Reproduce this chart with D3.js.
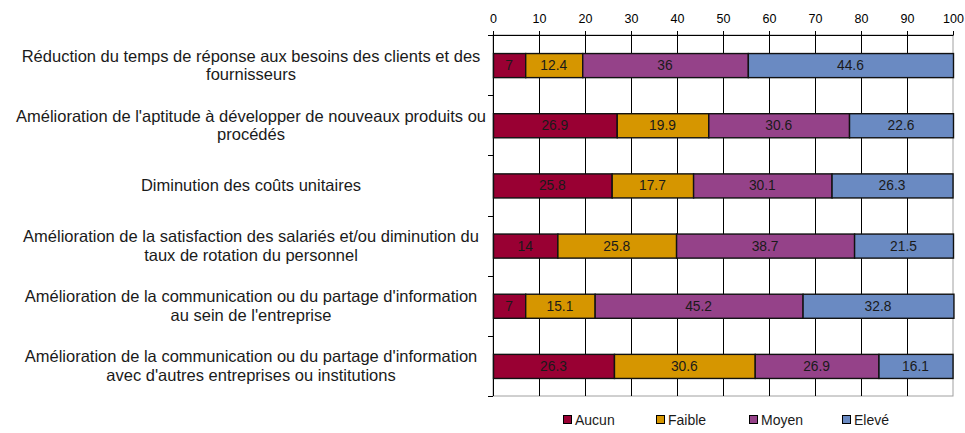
<!DOCTYPE html>
<html>
<head>
<meta charset="utf-8">
<script src="https://cdn.jsdelivr.net/npm/d3@7"></script>
<style>
  body { margin: 0; background: #fff; }
  svg text { font-family: "Liberation Sans", Arial, sans-serif; }
</style>
</head>
<body>
<svg id="chart"></svg>
<script>
// données
var categories = [
    ["Réduction du temps de réponse aux besoins des clients et des", "fournisseurs"],
    ["Amélioration de l'aptitude à développer de nouveaux produits ou", "procédés"],
    ["Diminution des coûts unitaires"],
    ["Amélioration de la satisfaction des salariés et/ou diminution du", "taux de rotation du personnel"],
    ["Amélioration de la communication ou du partage d'information", "au sein de l'entreprise"],
    ["Amélioration de la communication ou du partage d'information", "avec d'autres entreprises ou institutions"]
];
var series = ["Aucun", "Faible", "Moyen", "Elevé"];
var aucun  = [7, 26.9, 25.8, 14, 7, 26.3];
var faible = [12.4, 19.9, 17.7, 25.8, 15.1, 30.6];
var moyen  = [36, 30.6, 30.1, 38.7, 45.2, 26.9];
var eleve  = [44.6, 22.6, 26.3, 21.5, 32.8, 16.1];
var xTicks = [0, 10, 20, 30, 40, 50, 60, 70, 80, 90, 100];
var colors = ["#990033", "#D69600", "#954289", "#6A8AC2"];

var svg = d3.select("#chart").attr("width", 965).attr("height", 433);
var margin = { top: 35, right: 12, bottom: 37, left: 493 },
    width = 965 - margin.left - margin.right,
    height = 433 - margin.top - margin.bottom,
    g = svg.append("g").attr("transform", "translate(" + margin.left + "," + margin.top + ")");

var rows = categories.map(function(c, i) {
    return { id: i, label: c, Aucun: aucun[i], "Faible": faible[i], "Moyen": moyen[i], "Elevé": eleve[i] };
});

var x = d3.scaleLinear().domain([0, 100]).range([0, width]);
var y = d3.scaleBand().domain(rows.map(function(d) { return d.id; })).range([0, height]).paddingInner(0.6).paddingOuter(0.3);
var color = d3.scaleOrdinal().domain(series).range(colors);

var stack = d3.stack().keys(series)(rows);

// bordure droite et basse (gris)
g.append("rect")
    .attr("x", 0).attr("y", 0).attr("width", width).attr("height", height)
    .attr("fill", "none").attr("stroke", "#a0a0a0");

// grille verticale
g.selectAll(".grid").data(xTicks.slice(1, -1)).enter().append("line")
    .attr("x1", function(d) { return x(d) + 0.5; })
    .attr("x2", function(d) { return x(d) + 0.5; })
    .attr("y1", 0).attr("y2", height)
    .attr("stroke", "#000");

// axe du haut
var xAxis = g.append("g")
    .call(d3.axisTop(x).tickValues(xTicks).tickSize(4).tickPadding(8).tickFormat(d3.format("d")));
xAxis.select(".domain").attr("stroke", "#000").attr("d", "M0.5,0.5H" + (width + 0.5));
xAxis.selectAll("text").style("font-size", "12.5px").attr("fill", "#000");

// axe gauche avec graduations entre catégories
var step = height / categories.length;
var yTicks = d3.range(categories.length + 1);
g.append("line").attr("x1", 0.5).attr("x2", 0.5).attr("y1", 0).attr("y2", height).attr("stroke", "#000");
g.selectAll(".ytick").data(yTicks).enter().append("line")
    .attr("x1", -5).attr("x2", 0)
    .attr("y1", function(d) { return Math.round(d * step) + 0.5; })
    .attr("y2", function(d) { return Math.round(d * step) + 0.5; })
    .attr("stroke", "#000");

// barres
var serie = g.selectAll(".serie").data(stack).enter().append("g")
    .attr("fill", function(d) { return color(d.key); });

serie.selectAll("rect").data(function(d) { return d; }).enter().append("rect")
    .attr("x", function(d) { return x(d[0]) + 0.5; })
    .attr("y", function(d) { return y(d.data.id) + 0.5; })
    .attr("width", function(d) { return x(d[1]) - x(d[0]); })
    .attr("height", y.bandwidth())
    .attr("stroke", "#111").attr("stroke-width", 1.4);

serie.selectAll("text").data(function(d) { return d.map(function(p) { p.key = d.key; return p; }); }).enter().append("text")
    .attr("x", function(d) { return (x(d[0]) + x(d[1])) / 2; })
    .attr("y", function(d) { return y(d.data.id) + y.bandwidth() / 2; })
    .attr("dy", "0.36em")
    .attr("text-anchor", "middle")
    .attr("fill", "#1a1a1a")
    .style("font-size", "13.8px")
    .text(function(d) { return d.data[d.key]; });

// libellés des catégories
var lab = g.selectAll(".lab").data(rows).enter().append("text")
    .attr("text-anchor", "middle")
    .attr("fill", "#1a1a1a")
    .style("font-size", "16.5px")
    .attr("transform", function(d) {
        return "translate(-242," + (y(d.id) + y.bandwidth() / 2) + ")";
    });
lab.selectAll("tspan").data(function(d) {
        var n = d.label.length;
        return d.label.map(function(t, i) { return { t: t, i: i, n: n }; });
    }).enter().append("tspan")
    .attr("x", 0)
    .attr("y", function(d) { return (d.i - (d.n - 1) / 2) * 18.5; })
    .attr("dy", "0.35em")
    .text(function(d) { return d.t; });

// légende
var legend = svg.append("g").attr("transform", "translate(563,415)");
var item = legend.selectAll("g").data(series).enter().append("g")
    .attr("transform", function(d, i) { return "translate(" + (i * 93) + ",0)"; });
item.append("rect").attr("x", 0.5).attr("y", 0.5).attr("width", 8).attr("height", 8)
    .attr("fill", function(d) { return color(d); }).attr("stroke", "#000");
item.append("text").attr("x", 12).attr("y", 4.5).attr("dy", "0.36em")
    .style("font-size", "14px").attr("fill", "#1a1a1a")
    .text(function(d) { return d; });
</script>
</body>
</html>
